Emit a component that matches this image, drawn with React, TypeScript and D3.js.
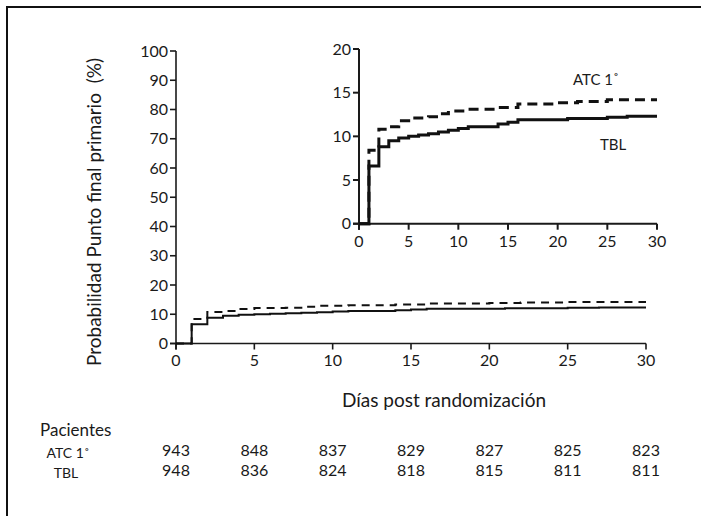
import React from 'react'
import * as d3 from 'd3'

// tick values
const dayTicks = [0, 5, 10, 15, 20, 25, 30]
const mainYTicks = [0, 10, 20, 30, 40, 50, 60, 70, 80, 90, 100]
const insetYTicks = [0, 5, 10, 15, 20]

// Kaplan-Meier steps
const atcDays = [0, 1, 2, 3, 4, 5, 7, 8, 9, 11, 14, 16, 20, 22, 25, 30]
const atcValues = [0, 8.4, 10.8, 11.1, 11.8, 12.1, 12.25, 12.6, 12.9, 13.1, 13.3, 13.7, 13.85, 14.0, 14.2, 14.2]
const tblDays = [0, 1, 2, 3, 4, 5, 6, 7, 8, 9, 10, 11, 14, 15, 16, 21, 25, 27, 30]
const tblValues = [0, 6.6, 8.8, 9.5, 9.8, 10.0, 10.15, 10.3, 10.5, 10.7, 10.9, 11.1, 11.4, 11.6, 11.9, 12.05, 12.2, 12.3, 12.3]

// patients at risk
const atcPatients = [943, 848, 837, 829, 827, 825, 823]
const tblPatients = [948, 836, 824, 818, 815, 811, 811]

const FONT = 'Lato, "Open Sans", sans-serif'
const INK = '#1a1a1a'

type Scale = d3.ScaleLinear<number, number>

/**
 * Axes drawn as plain JSX: left axis with ticks, bottom axis with ticks.
 */
class Axes extends React.Component<any> {
  render () {
    const { x, y, xTicks, yTicks, strokeWidth, fontSize, tick } = this.props
    const [x0, x1] = x.range()
    const [y0, y1] = y.range()
    return (
      <g fill={INK} fontFamily={FONT} fontSize={fontSize}>
        <line x1={x0} x2={x0} y1={y0 + tick} y2={y1} stroke={INK} strokeWidth={strokeWidth} />
        <line x1={x0 - tick} x2={x1} y1={y0} y2={y0} stroke={INK} strokeWidth={strokeWidth} />
        {yTicks.map((t: number) => (
          <g key={'y' + t}>
            <line x1={x0 - tick} x2={x0} y1={y(t)} y2={y(t)} stroke={INK} strokeWidth={strokeWidth} />
            <text x={x0 - tick - 2} y={y(t)} dy="0.35em" textAnchor="end">{t}</text>
          </g>
        ))}
        {xTicks.map((t: number) => (
          <g key={'x' + t}>
            <line x1={x(t)} x2={x(t)} y1={y0} y2={y0 + tick} stroke={INK} strokeWidth={strokeWidth} />
            <text x={x(t)} y={y0 + tick + 4} dy="0.8em" textAnchor="middle">{t}</text>
          </g>
        ))}
      </g>
    )
  }
}

/**
 * The two step curves for one pair of scales.
 */
class Curves extends React.Component<any> {
  render () {
    const { x, y, width, dash } = this.props
    const line = d3.line<[number, number]>()
      .curve(d3.curveStepAfter)
      .x(d => x(d[0]))
      .y(d => y(d[1]))
    const atc = atcDays.map((d, i) => [d, atcValues[i]] as [number, number])
    const tbl = tblDays.map((d, i) => [d, tblValues[i]] as [number, number])
    return (
      <g fill="none" stroke="#111">
        <path d={line(atc) || ''} strokeWidth={width} strokeDasharray={dash} />
        <path d={line(tbl) || ''} strokeWidth={width} />
      </g>
    )
  }
}

export default function App () {
  const mainX: Scale = d3.scaleLinear().domain([0, 30]).range([176, 646])
  const mainY: Scale = d3.scaleLinear().domain([0, 100]).range([343.5, 51])
  const insetX: Scale = d3.scaleLinear().domain([0, 30]).range([359, 657])
  const insetY: Scale = d3.scaleLinear().domain([0, 20]).range([223.7, 49])

  return (
    <svg width={701} height={516} style={{ position: 'absolute', left: 0, top: 0, background: '#fff' }}>
      <path d="M7,516V7H701" fill="none" stroke="#111" strokeWidth={2} />

      <Axes x={mainX} y={mainY} xTicks={dayTicks} yTicks={mainYTicks} strokeWidth={1.6} fontSize={16} tick={6} />
      <Curves x={mainX} y={mainY} width={2} dash="8,6" />

      <Axes x={insetX} y={insetY} xTicks={dayTicks} yTicks={insetYTicks} strokeWidth={2} fontSize={16} tick={6} />
      <Curves x={insetX} y={insetY} width={3} dash="10,6" />

      <g fill={INK} fontFamily={FONT}>
        <text x={573} y={85} fontSize={15}>ATC 1˚</text>
        <text x={600} y={150} fontSize={15}>TBL</text>

        <text transform="translate(101,212) rotate(-90)" textAnchor="middle" fontSize={19}>
          {'Probabilidad Punto final primario\u00a0\u00a0(%)'}
        </text>
        <text x={444} y={407} textAnchor="middle" fontSize={19}>Días post randomización</text>

        <text x={40} y={436} fontSize={17}>Pacientes</text>
        <text x={68} y={458} textAnchor="middle" fontSize={14}>ATC 1˚</text>
        <text x={66} y={478} textAnchor="middle" fontSize={14}>TBL</text>
        {dayTicks.map((d, i) => (
          <g key={d} fontSize={16} textAnchor="middle">
            <text x={mainX(d)} y={456}>{atcPatients[i]}</text>
            <text x={mainX(d)} y={476}>{tblPatients[i]}</text>
          </g>
        ))}
      </g>
    </svg>
  )
}
